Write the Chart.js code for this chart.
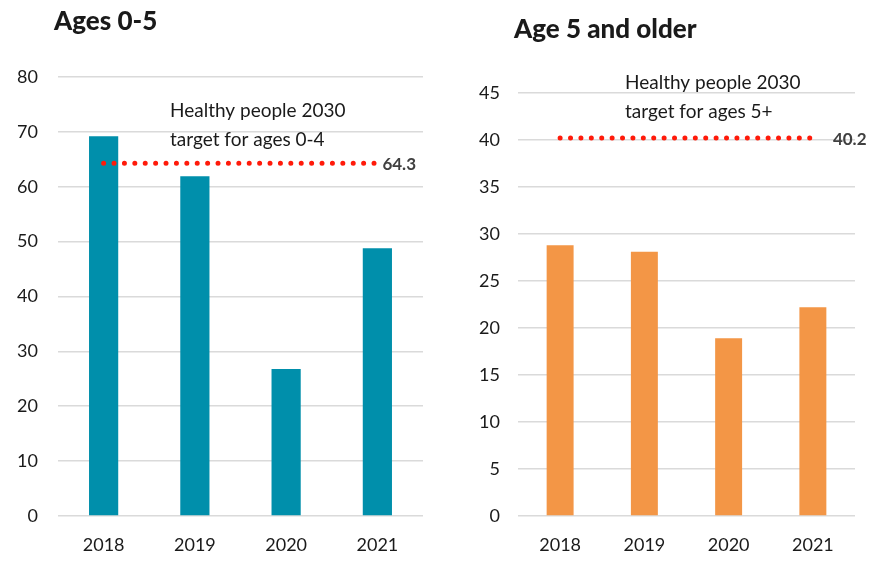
<!DOCTYPE html>
<html><head><meta charset="utf-8">
<script src="https://cdn.jsdelivr.net/npm/chart.js@4"></script>
<style>
html,body{margin:0;padding:0;background:#fff;}
#wrap{position:relative;width:880px;height:567px;}
.box{position:absolute;top:0;width:440px;height:567px;}
</style></head><body>
<div id="wrap">
<div class="box" style="left:0"><canvas id="c1" width="440" height="567"></canvas></div>
<div class="box" style="left:440px"><canvas id="c2" width="440" height="567"></canvas></div>
</div>
<script>
const categories = ['2018', '2019', '2020', '2021'];
const ages0to5 = [69.2, 61.9, 26.8, 48.8];
const ages5plus = [28.8, 28.1, 18.9, 22.2];
const target0to4 = 64.3;
const target5plus = 40.2;
const titles = ['Ages 0-5', 'Age 5 and older'];
const noteLeft = ['Healthy people 2030', 'target for ages 0-4'];
const noteRight = ['Healthy people 2030', 'target for ages 5+'];

const FONT = 'Lato, "Open Sans", sans-serif';

function makeChart(id, cfg) {
  const overlay = {
    id: 'overlay',
    afterDatasetsDraw(chart) {
      const ctx = chart.ctx;
      ctx.save();
      ctx.fillStyle = '#1a1a1a';
      ctx.font = '900 26px ' + FONT;
      ctx.textBaseline = 'alphabetic';
      ctx.textAlign = 'left';
      ctx.fillText(cfg.title, cfg.titleX, cfg.titleY);
      ctx.font = '19px ' + FONT;
      ctx.fillStyle = '#1a1a1a';
      ctx.textBaseline = 'middle';
      cfg.note.forEach((t, i) => ctx.fillText(t, cfg.noteX, cfg.noteY + i * 29));
      const meta = chart.getDatasetMeta(1);
      const last = meta.data[meta.data.length - 1];
      ctx.font = 'bold 17px ' + FONT;
      ctx.fillStyle = '#404040';
      ctx.fillText(String(cfg.target), last.x + cfg.labelDx, last.y + 1);
      ctx.restore();
    }
  };
  return new Chart(document.getElementById(id), {
    data: {
      labels: categories,
      datasets: [
        { type: 'bar', data: cfg.values, backgroundColor: cfg.color, barPercentage: 0.32, categoryPercentage: 1.0, order: 2 },
        { type: 'line', data: categories.map(() => cfg.target), borderColor: '#ff1a0a', borderWidth: 5,
          borderDash: [0, 10.4], borderCapStyle: 'round', pointRadius: 0, fill: false, order: 1 }
      ]
    },
    options: {
      responsive: false, animation: false, devicePixelRatio: 1,
      layout: { padding: { left: 0, right: cfg.padRight, top: cfg.padTop, bottom: 0 } },
      plugins: { legend: { display: false }, tooltip: { enabled: false }, title: { display: false } },
      scales: {
        x: {
          grid: { display: false, drawTicks: false }, border: { display: false },
          ticks: { color: '#1a1a1a', font: { family: FONT, size: 18 }, padding: 18 },
          afterFit(s) { s.height = 51; }
        },
        y: {
          min: 0, max: cfg.max,
          grid: { color: '#dadada', lineWidth: 1.6, drawTicks: false }, border: { display: false },
          ticks: { stepSize: cfg.step, color: '#1a1a1a', font: { family: FONT, size: 18 }, padding: cfg.tickPad },
          afterFit(s) { s.width = cfg.yWidth; }
        }
      }
    },
    plugins: [overlay]
  });
}

makeChart('c1', { values: ages0to5, color: '#008fab', target: target0to4, max: 80, step: 10,
  padRight: 17, padTop: 77, yWidth: 58, tickPad: 20, title: titles[0], titleX: 54, titleY: 30,
  note: noteLeft, noteX: 170, noteY: 111, labelDx: 5 });
makeChart('c2', { values: ages5plus, color: '#f39646', target: target5plus, max: 45, step: 5,
  padRight: 25, padTop: 93, yWidth: 78, tickPad: 18, title: titles[1], titleX: 74, titleY: 38,
  note: noteRight, noteX: 185, noteY: 83, labelDx: 20 });
</script>
</body></html>
